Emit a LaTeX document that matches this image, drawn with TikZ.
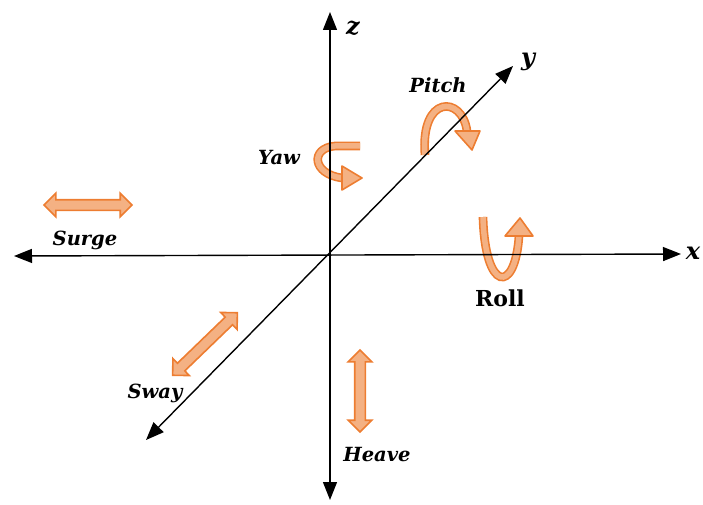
\documentclass[tikz,border=0pt]{standalone}
\usepackage{fontspec}
\setmainfont{DejaVu Serif}
\usetikzlibrary{arrows.meta,shapes.arrows}
\definecolor{motionline}{HTML}{ED7D31}
\definecolor{motionfill}{HTML}{F4B183}

\begin{document}
\begin{tikzpicture}[
    x=1pt, y=-1pt,
    axis/.style={{Triangle[length=18pt,width=14pt]}-{Triangle[length=18pt,width=14pt]},
      line width=1.4pt, draw=black},
    axlbl/.style={font=\fontsize{24}{24}\selectfont\bfseries\itshape},
    lbl/.style={font=\fontsize{19.5}{19.5}\selectfont\bfseries\itshape},
    rolllbl/.style={font=\fontsize{22}{22}\selectfont\bfseries},
    transl/.style={double arrow, draw=motionline, fill=motionfill,
      line width=1.6pt, inner xsep=0pt, inner ysep=4.5pt,
      double arrow head extend=6.5pt},
    band/.style={draw=motionline, line width=1.6pt,
      double=motionfill, double distance=5.5pt},
    tiphead/.style={draw=motionline, fill=motionfill, line width=1.6pt,
      line join=round}
  ]
    \useasboundingbox (0,0) rectangle (703,505);

    % axis ends
    \coordinate (O) at (330,255);
    \coordinate (xneg) at (14,256);
    \coordinate (xpos) at (681,254);
    \coordinate (zpos) at (330,12);
    \coordinate (zneg) at (330,500);
    \coordinate (yneg) at (146,440);
    \coordinate (ypos) at (513,66);

    % translations
    \node[transl, minimum height=88pt] (surge) at (88,205) {};
    \node[transl, minimum height=90pt, rotate=44] (sway) at (205,344) {};
    \node[transl, minimum height=82pt, rotate=90] (heave) at (360,391) {};

    % rotations
    \draw[band] (360,146) -- (335,146) .. controls (310,148) and (312,174) .. (342,178);
    \filldraw[tiphead] (342,166) -- (362,178) -- (342,190) -- cycle;

    \draw[band] (425,155) .. controls (420,95) and (462,95) .. (467,131);
    \filldraw[tiphead] (455,131) -- (480,131) -- (472,150) -- cycle;

    \draw[band] (483,217) .. controls (485,292) and (515,295) .. (519,236);
    \filldraw[tiphead] (505,236) -- (533,236) -- (520,218) -- cycle;

    % axes
    \draw[axis] (xneg) -- (xpos);
    \draw[axis] (zneg) -- (zpos);
    \draw[axis] (yneg) -- (ypos);

    % labels
    \node[axlbl] (zlab) at (353,28) {z};
    \node[axlbl] (ylab) at (528,62) {y};
    \node[axlbl] (xlab) at (693,253) {x};
    \node[lbl] (pitch) at (438,85) {Pitch};
    \node[lbl] (yaw) at (279,158) {Yaw};
    \node[lbl] (surgelab) at (85,240) {Surge};
    \node[rolllbl] (roll) at (500,298) {Roll};
    \node[lbl] (swaylab) at (155,393) {Sway};
    \node[lbl] (heavelab) at (377,455) {Heave};
  \end{tikzpicture}
\end{document}
